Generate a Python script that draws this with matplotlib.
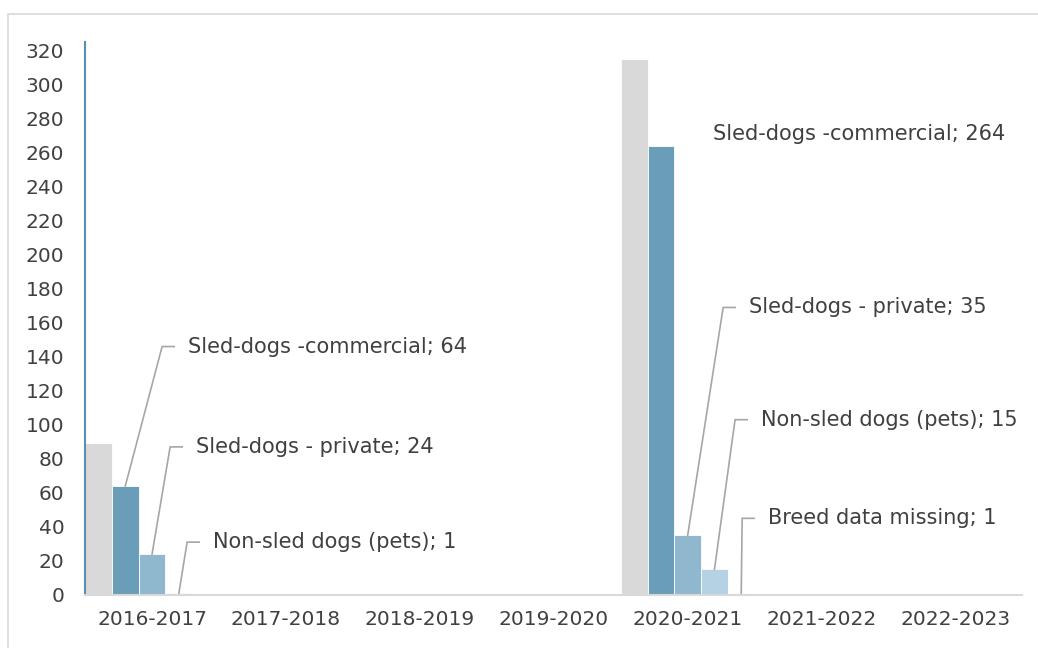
import matplotlib
matplotlib.use('Agg')
import matplotlib.pyplot as plt
from matplotlib.patches import Rectangle

# seasons on the x axis
seasons = ['2016-2017', '2017-2018', '2018-2019', '2019-2020',
           '2020-2021', '2021-2022', '2022-2023']

# number of cases per season, by breed group
total = [89, 0, 0, 0, 315, 0, 0]
commercial = [64, 0, 0, 0, 264, 0, 0]
private = [24, 0, 0, 0, 35, 0, 0]
pets = [1, 0, 0, 0, 15, 0, 0]
missing = [0, 0, 0, 0, 1, 0, 0]

series_names = ['Total', 'Sled-dogs -commercial', 'Sled-dogs - private',
                'Non-sled dogs (pets)', 'Breed data missing']
series_values = [total, commercial, private, pets, missing]
colors = ['#d9d9d9', '#6a9db8', '#8fb7ce', '#b4d2e3', '#c9dfeb']

text_color = '#404040'
plt.rcParams['font.family'] = ['DejaVu Sans']

fig = plt.figure(figsize=(10.38, 6.48), dpi=100)
ax = fig.add_axes([0.082, 0.082, 0.903, 0.853])

n = len(series_values)
width = 1.0 / n
for j, (vals, col) in enumerate(zip(series_values, colors)):
    xs = [i + j * width for i in range(len(seasons))]
    ax.bar(xs, vals, width=width, align='edge', color=col,
           edgecolor='white', linewidth=0.6)

ax.set_xlim(0, len(seasons))
ax.set_ylim(0, 325)
ax.set_yticks(range(0, 321, 20))
ax.set_xticks([i + 0.5 for i in range(len(seasons))])
ax.set_xticklabels(seasons)

for s in ['top', 'right']:
    ax.spines[s].set_visible(False)
ax.spines['left'].set_color('#5b8db0')
ax.spines['left'].set_linewidth(1.5)
ax.spines['bottom'].set_color('#d9d9d9')
ax.spines['bottom'].set_linewidth(1.5)
ax.tick_params(axis='y', length=0, pad=15, labelsize=14.5, labelcolor=text_color)
ax.tick_params(axis='x', length=0, pad=11, labelsize=14.5, labelcolor=text_color)

# data labels: (season, series, elbow x, elbow y); None = no leader line
label_layout = [
    (0, 1, 0.575, 146),
    (0, 2, 0.635, 87),
    (0, 3, 0.762, 31),
    (4, 1, None, 271),
    (4, 2, 4.765, 169),
    (4, 3, 4.854, 103),
    (4, 4, 4.907, 45),
]
leader_color = '#a6a6a6'
for i, j, ex, ey in label_layout:
    val = series_values[j][i]
    label = f'{series_names[j]}; {val}'
    bx = i + j * width + width / 2
    if ex is None:
        ax.text(4.69, ey, label, fontsize=15, color=text_color, va='center')
        continue
    hx = ex + 0.09
    ax.plot([bx, ex, hx], [val, ey, ey], color=leader_color, lw=1.2,
            solid_joinstyle='miter', clip_on=False)
    ax.text(hx + 0.1, ey, label, fontsize=15, color=text_color, va='center')

# chart area border
fig.patches.append(Rectangle((8 / 1038, -0.1), 1.2, 1 - 14 / 648 + 0.1,
                             transform=fig.transFigure, fill=False,
                             edgecolor='#d9d9d9', linewidth=1.2))

plt.savefig('out.png', dpi=100)
